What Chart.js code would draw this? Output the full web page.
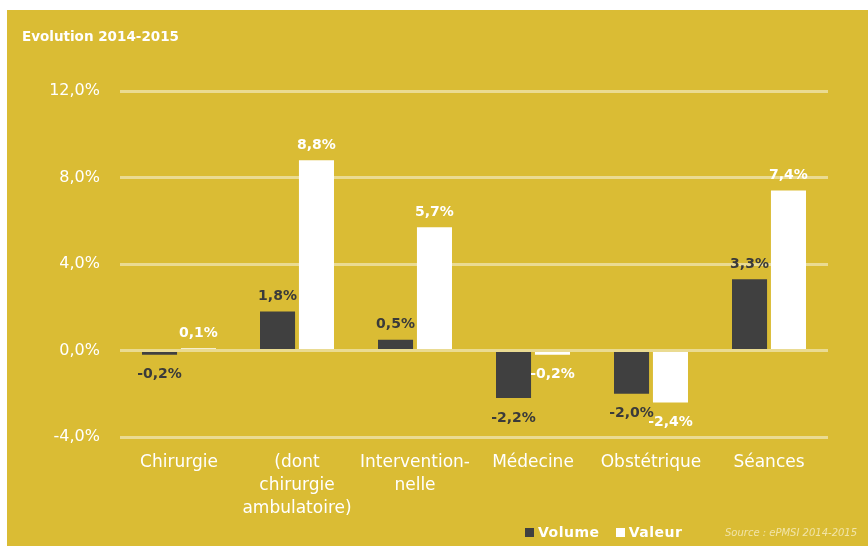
<!DOCTYPE html>
<html>
<head>
<meta charset="utf-8">
<script src="https://cdn.jsdelivr.net/npm/chart.js@4/dist/chart.umd.min.js"></script>
<style>
    body { margin: 0; background: #fff; width: 868px; height: 546px; overflow: hidden; font-family: "DejaVu Sans", sans-serif; }
    #panel { position: absolute; left: 7px; top: 10px; width: 861px; height: 536px; background: #dabc34; }
    #chart { position: absolute; left: 0; top: 0; }
    .title { position: absolute; left: 15px; top: 18px; color: #fff; font: bold 13.5px "DejaVu Sans", sans-serif; }
    .legend { position: absolute; left: 518px; top: 514px; color: #fff; font: bold 14px "DejaVu Sans", sans-serif; letter-spacing: 0.5px; }
    .legend span.box { display: inline-block; width: 9px; height: 9px; margin-right: 4px; vertical-align: 0px; }
    .source { position: absolute; left: 718px; top: 517px; color: #f1e4a8; font: italic 10px "DejaVu Sans", sans-serif; }
</style>
</head>
<body>
<div id="panel">
    <canvas id="chart" width="861" height="536"></canvas>
    <div class="title">Evolution 2014-2015</div>
    <div class="legend"><span class="box" style="background:#404040"></span>Volume&nbsp;&nbsp;&nbsp;<span class="box" style="background:#fff"></span>Valeur</div>
    <div class="source">Source : ePMSI 2014-2015</div>
</div>
<script>
// ---------------- DATA ----------------
const categories = ['Chirurgie', ['(dont', 'chirurgie', 'ambulatoire)'], ['Intervention-', 'nelle'], 'Médecine', 'Obstétrique', 'Séances'];
const volume = [-0.2, 1.8, 0.5, -2.2, -2.0, 3.3];
const valeur = [0.1, 8.8, 5.7, -0.2, -2.4, 7.4];
const yTicks = [-4, 0, 4, 8, 12];

const fmt = v => v.toFixed(1).replace('.', ',') + '%';

// value labels above positive bars, below negative ones
const valueLabels = {
    id: 'valueLabels',
    afterDatasetsDraw(chart) {
        const ctx = chart.ctx;
        ctx.save();
        ctx.font = 'bold 14px "DejaVu Sans", sans-serif';
        ctx.textAlign = 'center';
        ctx.textBaseline = 'middle';
        chart.data.datasets.forEach((ds, i) => {
            chart.getDatasetMeta(i).data.forEach((bar, j) => {
                const v = ds.data[j];
                ctx.fillStyle = ds.labelColor;
                const y = v >= 0 ? bar.y - 15 : bar.y + 20;
                ctx.fillText(fmt(v), bar.x, y);
            });
        });
        ctx.restore();
    }
};

new Chart(document.getElementById('chart'), {
    type: 'bar',
    data: {
        labels: categories,
        datasets: [
            { label: 'Volume', data: volume, backgroundColor: '#404040', labelColor: '#3a3a3a' },
            { label: 'Valeur', data: valeur, backgroundColor: '#ffffff', labelColor: '#ffffff' }
        ]
    },
    options: {
        responsive: false,
        animation: false,
        categoryPercentage: 0.66,
        barPercentage: 0.9,
        layout: { padding: { top: 81, right: 40, left: 0, bottom: 0 } },
        plugins: { legend: { display: false }, tooltip: { enabled: false } },
        scales: {
            x: {
                grid: { display: false, drawTicks: false },
                border: { display: false },
                ticks: {
                    color: '#fff',
                    padding: 14,
                    maxRotation: 0,
                    autoSkip: false,
                    font: { family: '"DejaVu Sans", sans-serif', size: 17, lineHeight: 1.35 }
                },
                afterFit: s => { s.height = 109; }
            },
            y: {
                min: -4,
                max: 12,
                afterBuildTicks: s => { s.ticks = yTicks.map(v => ({ value: v })); },
                grid: { color: '#eadb92', lineWidth: 3, drawTicks: false },
                border: { display: false },
                ticks: {
                    color: '#fff',
                    padding: 20,
                    font: { family: '"DejaVu Sans", sans-serif', size: 16 },
                    callback: v => fmt(v)
                },
                afterFit: s => { s.width = 113; }
            }
        }
    },
    plugins: [valueLabels]
});
</script>
</body>
</html>
